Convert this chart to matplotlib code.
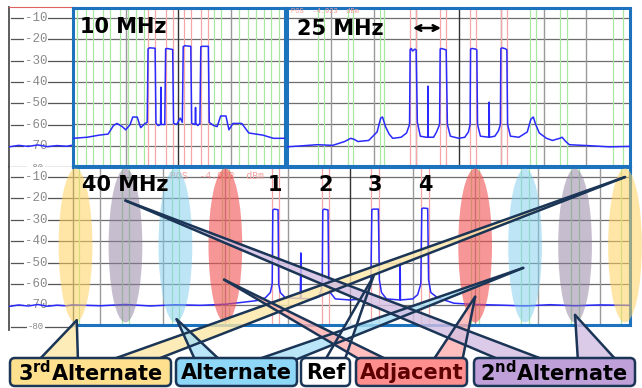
#imports:
import numpy as np
import matplotlib
matplotlib.use('Agg')
import matplotlib.pyplot as plt
from matplotlib.patches import Ellipse, FancyBboxPatch, Polygon

#data:
#10 MHz spacing panel, offset from centre (MHz) and level (dBm)
freq10 = [-60, -52, -45, -40, -37, -35, -32, -30, -27.5, -26, -23.5, -21.5, -19,
          -17.8, -17.3, -16.5, -13.3, -12.8, -11.5, -10.2, -10, -9.8, -7.8, -7.3,
          -6.5, -3.3, -2.8, -1, 1, 2.2, 2.7, 3.5, 7, 7.5, 9.5, 9.7, 9.9, 11, 12.2,
          12.7, 13.5, 17, 17.5, 20, 22, 24, 27, 28.7, 31, 36, 40, 48, 54, 60.6]
level10 = [-66.5, -66, -65, -64.5, -60.5, -59.5, -61, -62.5, -60, -56.5, -56.5,
           -61.5, -59.5, -59, -24.5, -24, -24.2, -59.5, -60.5, -60, -42.5, -60,
           -60, -24.5, -24.3, -24.8, -59.5, -60, -57, -59, -23.5, -23, -23.3,
           -59.5, -60, -52, -59.5, -60.5, -59.5, -23.5, -23.3, -23.3, -59, -60.5,
           -61, -56, -56, -62.5, -59.5, -59.5, -64, -65, -66.5, -66.5]
#25 MHz spacing panel
freq25 = [-143, -130, -118, -105, -95, -90, -87, -84, -75, -68, -65, -63.5, -61,
          -58, -55, -48, -43.5, -41, -40.5, -39.5, -38.5, -36.5, -35.5, -34.5,
          -32, -27, -25.8, -25.6, -25.4, -21, -18.5, -16, -15.5, -14.5, -11.5,
          -10.5, -9.5, -7, 0, 5, 8, 9.4, 9.8, 11, 14, 15, 15.6, 18, 25.1, 25.3,
          25.5, 30, 33, 34.6, 35, 36, 39, 40, 40.6, 43, 50, 57, 60, 62, 64, 67,
          73, 78, 84, 86, 89, 92, 110, 125, 142.5]
level25 = [-70.5, -70, -69.5, -69.8, -68, -66.5, -67, -68, -67.5, -63.5, -57,
           -56.5, -61, -64.5, -66.5, -66, -64, -60, -24.8, -24.3, -25.5, -24.6,
           -25, -59, -65.5, -66, -66, -42, -66, -66, -63.5, -60, -24.6, -24.3,
           -24.8, -25, -60, -65.5, -66.5, -66, -63.5, -60, -24.6, -24.3, -24.6,
           -25, -60, -65.5, -66, -49.5, -66, -65.5, -63, -60, -24.4, -24, -24.5,
           -25, -60, -65.5, -66, -63.5, -57.5, -56.5, -60, -64, -66.5, -67.5,
           -66.5, -66, -68, -69.5, -70, -70.5, -70.3]
#40 MHz spacing panel
freq40 = [-222, -200, -180, -160, -140, -120, -100, -85, -75, -68, -64, -62.5,
          -62, -61, -57.8, -57.3, -56, -52, -40, -39.6, -39.4, -30, -25, -23,
          -22.4, -22, -21, -17.8, -17.3, -16, -12, 0, 10, 14, 16.5, 17.3, 18.5,
          22.5, 23.3, 25, 29, 39.8, 40, 40.2, 50, 54, 56.5, 57.3, 58.5, 62, 62.7,
          64.5, 70, 83, 100, 120, 140, 160, 180, 200, 224]
level40 = [-69.8, -70.2, -69.6, -70.3, -69.7, -70, -69.5, -68.5, -67.8, -66.5,
           -64, -60, -25.5, -25, -25.3, -60, -64, -66.5, -66.8, -45.5, -66.8,
           -67, -66, -62, -58, -25.5, -25, -25.4, -58, -64, -67, -67.5, -67, -65,
           -60, -25.2, -25, -25, -58, -64, -67, -67.5, -50, -67.5, -67, -65, -60,
           -24.8, -24.5, -24.7, -58, -64, -66.5, -69, -69.6, -69.9, -70.3, -69.7,
           -70.2, -69.8, -70]
#left strip of the analyser screen
stripX = [0, 0.15, 0.3, 0.45, 0.6, 0.75, 0.9, 1.0]
stripLevel = [-70.5, -69.8, -70.3, -69.6, -70.4, -69.9, -70.2, -69.7]
dbTicks = [-10, -20, -30, -40, -50, -60, -70, -80]

#grid/marker lines per panel (MHz)
gray10 = [-30, 30]
red10 = [-17.2, -13.5, -7, -3, 3, 7.4, 12.6, 16.7]
green10 = [-57.5, -52.5, -48.5, -43, -39, -33.5, -28.5, -24, -19.5,
           20, 24, 34.5, 39.5, 44, 48.5, 52.5, 57]
gray25 = [-106, -70.7, -35.3, 35.3, 70.7, 106]
red25 = [-40.5, -35.5, -15.5, -10.5, 9.5, 14.5, 34.8, 39.8]
green25 = [-117, -112, -92.5, -88, -66, -62, 59, 64, 84, 90, 128, 137]
gray40 = [-200, -150, -100, -50, 50, 100, 150, 200]
red40 = [-63, -57, -23, -17, 17, 23, 57, 63]
green40 = [-217, -183, -177, -143, -137, -103, -97,
           97, 103, 137, 143, 177, 183, 217, 223]

carriers40 = [-60, -20, 20, 60]
carrierNames = ['1', '2', '3', '4']

#channel groups on the 40 MHz panel
groupCentres = [-220, -180, -140, -100, 100, 140, 180, 220]
groupColors = ['#FFD25E', '#8E7CA0', '#7CCDEE', '#F25050',
               '#F25050', '#7CCDEE', '#8E7CA0', '#FFD25E']
groupAlpha = [0.55, 0.5, 0.5, 0.6, 0.6, 0.5, 0.5, 0.55]

labelTexts = [r'3$^{\mathbf{rd}}$Alternate', 'Alternate', 'Ref', 'Adjacent',
              r'2$^{\mathbf{nd}}$Alternate']
labelFace = ['#FFE08E', '#8FD7F6', '#FFFFFF', '#FF8E8E', '#BFA0D8']
labelInk = ['black', 'black', 'black', '#5C0000', 'black']
wedgeFace = ['#FDE6A6', '#A9E0F5', '#FFFFFF', '#FFAFAF', '#D3BFE3']
#label index, target (MHz, dBm) on the 40 MHz panel
wedgeLabel = [0, 0, 1, 1, 2, 3, 3, 4, 4]
wedgeFreq = [-219, 220, -139, 138.5, 18.5, 100, -101, 180, -180]
wedgeLevel = [-77, -10, -76.5, -52.5, -56.5, -66, -58, -74.5, -21]

#layout (pixels):
W, H = 642, 388
navy = '#1B3556'
frameBlue = '#1D72BE'
fig = plt.figure(figsize=(W/100, H/100), dpi=100)

def pxAxes(l, t, r, b):
    return fig.add_axes([l/W, 1-b/H, (r-l)/W, (b-t)/H])

def drawStrip(ax, ylo, yhi, redTop):
    ax.set_xlim(0, 1)
    ax.set_ylim(ylo, yhi)
    ax.set_xticks([])
    ax.set_yticks([])
    for s in ['right', 'bottom']:
        ax.spines[s].set_visible(False)
    ax.spines['left'].set_color('#505050')
    ax.spines['left'].set_linewidth(1.3)
    ax.spines['top'].set_color('#E06060' if redTop else 'none')
    for d in dbTicks:
        ax.plot([0.03, 1], [d, d], color='#555555', lw=0.9)
        #bottom label is cut by the next screen, keep it small
        ax.text(0.42, d, str(d), ha='center', va='center', color='#8a8a8a',
                fontsize=9 if d > -80 else 6.5, family='Liberation Mono',
                clip_on=True,
                bbox=dict(boxstyle='square,pad=0.08', fc='white', ec='none'))
    ax.plot(stripX, stripLevel, color='#2a2aff', lw=1.1, zorder=5)

def drawPanel(ax, freq, level, xlim, ylim, grays, reds, greens):
    ax.set_xlim(*xlim)
    ax.set_ylim(*ylim)
    ax.set_xticks([])
    ax.set_yticks([])
    for d in dbTicks[:-1]:
        ax.axhline(d, color='#6e6e6e', lw=0.9, zorder=1)
    for g in greens:
        ax.axvline(g, color='#A8E8A0', lw=0.9, zorder=1)
    for g in grays:
        ax.axvline(g, color='#9a9a9a', lw=1, zorder=1)
    ax.axvline(0, color='#333333', lw=1, zorder=1)
    for r in reds:
        ax.axvline(r, color='#F6A6A6', lw=0.9, zorder=1)
    ax.plot(freq, level, color='#2a2aff', lw=1.1, zorder=3)
    for s in ax.spines.values():
        s.set_color(frameBlue)
        s.set_linewidth(2.2)

#left strips
drawStrip(pxAxes(9, 7, 73, 167), -79.95, -4.84, True)
drawStrip(pxAxes(9, 167, 73, 330), -81.5, -5.33, False)

#panels
p10 = pxAxes(73, 8, 285, 166)
drawPanel(p10, freq10, level10, (-60, 60.6), (-79.5, -5.3),
          gray10, red10, green10)
p25 = pxAxes(287, 8, 630, 166)
drawPanel(p25, freq25, level25, (-143, 142.5), (-79.5, -5.3),
          gray25, red25, green25)
p40 = pxAxes(73, 167, 630, 325)
drawPanel(p40, freq40, level40, (-222, 224), (-79.2, -5.3),
          gray40, red40, green40)
p40.spines['left'].set_color('#5a6a70')
p40.spines['left'].set_linewidth(1)

p10.text(0.033, 0.88, '10 MHz', transform=p10.transAxes, fontsize=15,
         fontweight='bold', va='center', zorder=6)
p25.text(0.012, 0.975, 'POS  -4.923  dBm', transform=p25.transAxes,
         fontsize=5, color='#F4A0A0', family='Liberation Mono', va='center',
         zorder=4)
p25.text(0.029, 0.87, '25 MHz', transform=p25.transAxes, fontsize=15,
         fontweight='bold', va='center', zorder=6)
p25.annotate('', xy=(-12.5, -14.7), xytext=(-40.5, -14.7),
             arrowprops=dict(arrowstyle='<->', lw=1.8, color='black'))
p40.text(0.175, 0.945, 'POS  -4.923  dBm', transform=p40.transAxes,
         fontsize=7, color='#F4A0A0', family='Liberation Mono', va='center',
         zorder=4)
p40.text(0.016, 0.886, '40 MHz', transform=p40.transAxes, fontsize=15,
         fontweight='bold', va='center', zorder=6)
for c, n in zip(carriers40, carrierNames):
    p40.text(c, -13.7, n, ha='center', va='center', fontsize=15,
             fontweight='bold', zorder=6)

#channel group ellipses
for c, col, a in zip(groupCentres, groupColors, groupAlpha):
    p40.add_patch(Ellipse((c, -42), 27, 72, fc=col, ec='none', alpha=a,
                          zorder=5, clip_on=False))

#overlay for callouts
ov = fig.add_axes([0, 0, 1, 1], zorder=10)
ov.set_xlim(0, W)
ov.set_ylim(H, 0)
ov.axis('off')

boxTop, boxBottom = 358, 386
boxX = [(10, 171), (176, 297), (301, 350), (356, 467), (474, 635)]
wedgeBase = [(37, 78), (105, 150), (196, 222), (250, 290), (324, 344),
             (432, 462), (364, 392), (578, 618), (505, 550)]

toOv = p40.transData + ov.transData.inverted()
for i, f, lv, (b0, b1) in zip(wedgeLabel, wedgeFreq, wedgeLevel, wedgeBase):
    ax_, ay_ = toOv.transform((f, lv))
    ov.add_patch(Polygon([(ax_, ay_), (b0, boxTop+4), (b1, boxTop+4)],
                         closed=True, fc=wedgeFace[i], ec='none', alpha=0.8,
                         zorder=2))
    ov.plot([ax_, b0], [ay_, boxTop+4], color=navy, lw=1.8, zorder=3,
            solid_capstyle='round')
    ov.plot([ax_, b1], [ay_, boxTop+4], color=navy, lw=1.8, zorder=3,
            solid_capstyle='round')

for (x0, x1), txt, fc, ink in zip(boxX, labelTexts, labelFace, labelInk):
    ov.add_patch(FancyBboxPatch((x0, boxTop), x1-x0, boxBottom-boxTop,
                                boxstyle='round,pad=0,rounding_size=5',
                                fc=fc, ec=navy, lw=1.8, zorder=4))
    ov.text((x0+x1)/2, (boxTop+boxBottom)/2+1, txt, ha='center', va='center',
            fontsize=15, fontweight='bold', color=ink, zorder=5)

fig.savefig('out.png', dpi=100)
